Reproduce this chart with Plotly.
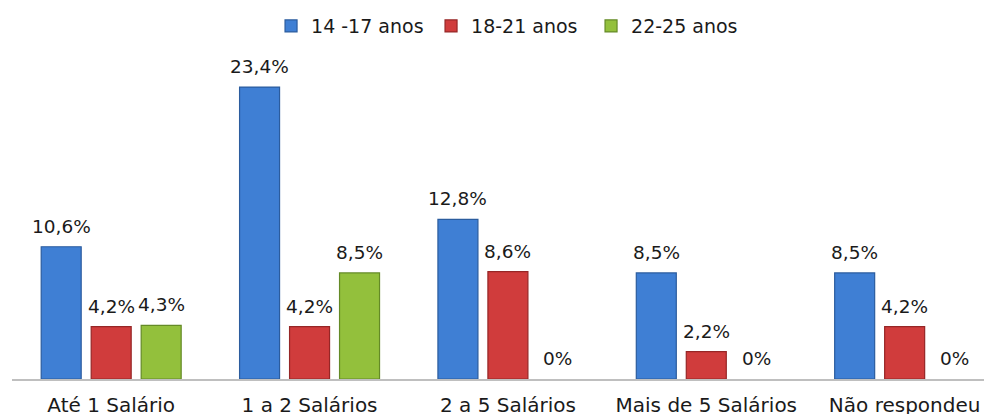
import plotly.graph_objects as go

categories = ["Até 1 Salário", "1 a 2 Salários", "2 a 5 Salários", "Mais de 5 Salários", "Não respondeu"]
series_names = ["14 -17 anos", "18-21 anos", "22-25 anos"]
v_14_17 = [10.6, 23.4, 12.8, 8.5, 8.5]
v_18_21 = [4.2, 4.2, 8.6, 2.2, 4.2]
v_22_25 = [4.3, 8.5, 0.0, 0.0, 0.0]
values = [v_14_17, v_18_21, v_22_25]
colors = ["#3F7FD4", "#D03C3C", "#93C03C"]
edges = ["#2B5C9E", "#962626", "#648A26"]

FONT = "DejaVu Sans, Verdana, sans-serif"
FS = 18.5

W, H = 984, 414
ML, MR, MT, MB = 12, 0, 40, 35
XR = [-0.5, 4.4]
BARGAP = 0.244
plot_w = W - ML - MR
slot_px = plot_w / (XR[1] - XR[0]) * (1 - BARGAP) / len(values)

def fmt(v):
    s = ("%.1f" % v).replace(".", ",")
    if s.endswith(",0"):
        s = s[:-2]
    return s + "%"

fig = go.Figure()
annotations = []
for i, (name, vals, c, e) in enumerate(zip(series_names, values, colors, edges)):
    fig.add_trace(go.Bar(
        x=categories, y=vals, name=name,
        marker=dict(color=c, line=dict(color=e, width=[1.2 if v > 0 else 0 for v in vals])),
    ))
    for cat, v in zip(categories, vals):
        annotations.append(dict(
            x=cat, y=v, xref="x", yref="y", text=fmt(v), showarrow=False,
            xanchor="center", yanchor="bottom", xshift=(i - 1) * slot_px, yshift=8,
            font=dict(family=FONT, size=FS, color="#1a1a1a"),
        ))

fig.update_layout(
    width=W, height=H,
    margin=dict(l=ML, r=MR, t=MT, b=MB, autoexpand=False),
    paper_bgcolor="white", plot_bgcolor="white",
    barmode="group", bargap=BARGAP, bargroupgap=0.2,
    font=dict(family=FONT, size=FS, color="#1a1a1a"),
    legend=dict(orientation="h", x=0.2665, xanchor="left", y=1.041, yanchor="middle",
                font=dict(family=FONT, size=19), itemwidth=30, traceorder="normal",
                entrywidth=115, entrywidthmode="pixels"),
    annotations=annotations,
    showlegend=True,
)
fig.update_xaxes(range=XR, showline=True, linecolor="#BFBFBF", linewidth=1.5,
                 ticks="", ticklabelstandoff=7, tickfont=dict(family=FONT, size=20),
                 automargin=False)
fig.update_yaxes(range=[0, 27.17], visible=False)
fig.write_html("out.html", config={"displayModeBar": False},
               post_script="document.body.style.margin='0';")
